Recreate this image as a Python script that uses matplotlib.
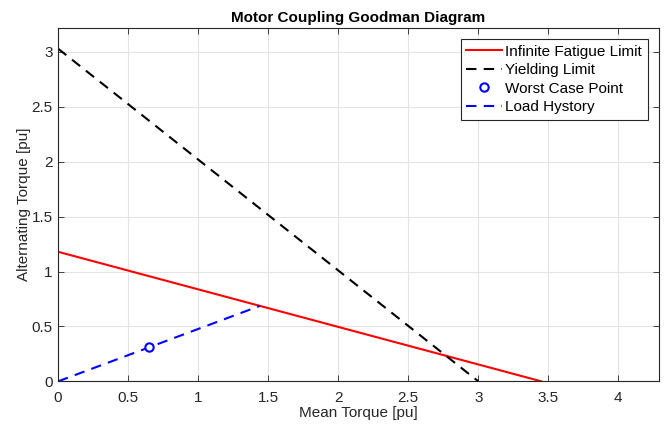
import matplotlib

matplotlib.use("Agg")
import matplotlib.pyplot as plt

# Goodman diagram data (mean torque vs alternating torque, pu)
fatigue_x = [0.0, 3.45]
fatigue_y = [1.18, 0.0]
yield_x = [0.0, 3.0]
yield_y = [3.03, 0.0]
worst_x = [0.65]
worst_y = [0.31]
load_x = [0.0, 1.44]
load_y = [0.0, 0.687]

xticks = [0, 0.5, 1, 1.5, 2, 2.5, 3, 3.5, 4]
yticks = [0, 0.5, 1, 1.5, 2, 2.5, 3]

plt.rcParams["font.family"] = ["Liberation Sans", "DejaVu Sans"]

fig = plt.figure(figsize=(6.68, 4.28), dpi=100)
ax = fig.add_axes([0.087, 0.109, 0.8995, 0.826])

dash = (0, (5, 3.5))
ax.plot(fatigue_x, fatigue_y, color="#ff0000", lw=1.5, label="Infinite Fatigue Limit")
ax.plot(yield_x, yield_y, color="black", lw=1.5, ls=dash, label="Yielding Limit")
ax.plot(worst_x, worst_y, ls="none", marker="o", ms=6, mfc="white", mec="#0000ff",
        mew=1.5, label="Worst Case Point", zorder=4)
ax.plot(load_x, load_y, color="#0000ff", lw=1.5, ls=dash, label="Load Hystory")

ax.set_xlim(0, 4.29)
ax.set_ylim(0, 3.22)
ax.set_xticks(xticks)
ax.set_yticks(yticks)
ax.set_xticklabels([f"{t:g}" for t in xticks])
ax.set_yticklabels([f"{t:g}" for t in yticks])
ax.tick_params(direction="in", top=True, right=True, labelsize=11, colors="#262626",
               length=4, width=0.6)
ax.tick_params(axis="x", pad=7)
ax.tick_params(axis="y", pad=4)
ax.grid(True, color="#e3e3e3", lw=0.8)
ax.set_axisbelow(True)
for s in ax.spines.values():
    s.set_color("#262626")
    s.set_linewidth(0.8)

ax.set_title("Motor Coupling Goodman Diagram", fontsize=11, fontweight="bold", pad=4)
ax.set_xlabel("Mean Torque [pu]", fontsize=11, color="#262626", labelpad=1)
ax.set_ylabel("Alternating Torque [pu]", fontsize=11, color="#262626", labelpad=0)

leg = ax.legend(loc="upper right", fontsize=11, fancybox=False, framealpha=1,
                edgecolor="#262626", borderaxespad=0.75, handlelength=2.3,
                labelspacing=0.3, borderpad=0.35, handletextpad=0.25)
leg.get_frame().set_linewidth(0.8)

fig.savefig("out.png", dpi=100)
